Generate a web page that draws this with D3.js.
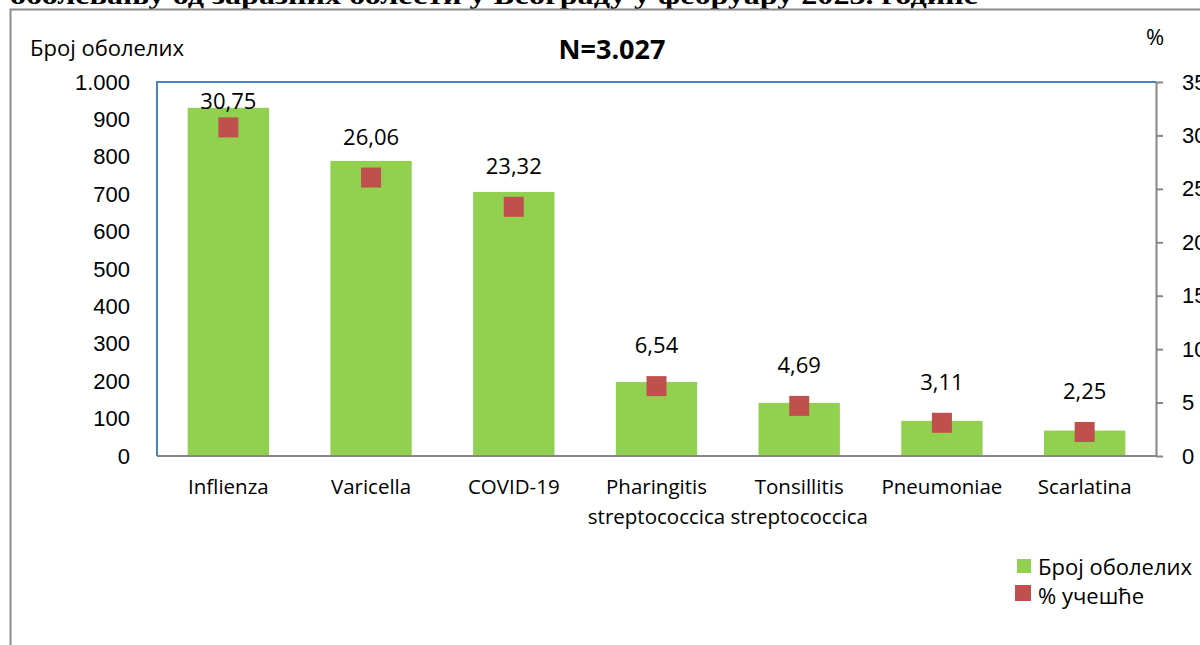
<!DOCTYPE html>
<html>
<head>
<meta charset="utf-8">
<script src="https://cdn.jsdelivr.net/npm/d3@7"></script>
<style>
  body { margin: 0; background: #fff; }
  svg { display: block; font-family: "Open Sans", sans-serif; }
</style>
</head>
<body>
<div class="chart-container"></div>
<script>
// data
const categories = [
  ['Inflienza'],
  ['Varicella'],
  ['COVID-19'],
  ['Pharingitis', 'streptococcica'],
  ['Tonsillitis', 'streptococcica'],
  ['Pneumoniae'],
  ['Scarlatina']
];
const cases = [931, 789, 706, 198, 142, 94, 68];          // Број оболелих
const shares = [30.75, 26.06, 23.32, 6.54, 4.69, 3.11, 2.25]; // % учешће
const leftTicks = d3.range(0, 1001, 100);
const rightTicks = d3.range(0, 36, 5);

const fmtLeft = d => d === 1000 ? '1.000' : String(d);
const fmtPct = d => d.toFixed(2).replace('.', ',');

const W = 1200, H = 645;
const plot = {left: 157, right: 1156, top: 82, bottom: 456};

const svg = d3.select('.chart-container').append('svg')
  .attr('width', W).attr('height', H);

// cut-off document title & frame
svg.append('text')
  .attr('x', 10).attr('y', 4)
  .attr('textLength', 968).attr('lengthAdjust', 'spacingAndGlyphs')
  .style('font-family', '"Liberation Serif", serif')
  .style('font-weight', 'bold').style('font-size', '26px')
  .text('оболевању од заразних болести у Београду у фебруару 2023. године');
svg.append('path')
  .attr('d', `M10.5,${H} V9.5 H${W}`)
  .attr('fill', 'none').attr('stroke', '#8c8c8c').attr('stroke-width', 2);

// scales
const x = d3.scaleBand().domain(categories.map((d, i) => i))
  .range([plot.left, plot.right]).paddingInner(0.43).paddingOuter(0.215);
const yL = d3.scaleLinear().domain([0, 1000]).range([plot.bottom, plot.top]);
const yR = d3.scaleLinear().domain([0, 35]).range([plot.bottom, plot.top]);

// plot border (top/left blue)
svg.append('path')
  .attr('d', `M${plot.left},${plot.bottom} V${plot.top} H${plot.right}`)
  .attr('fill', 'none').attr('stroke', '#4F81BD').attr('stroke-width', 2);

// bars
svg.append('g').selectAll('rect').data(cases).enter().append('rect')
  .attr('x', (d, i) => x(i))
  .attr('width', x.bandwidth())
  .attr('y', d => yL(d))
  .attr('height', d => yL(0) - yL(d))
  .attr('fill', '#92D050');

// left axis (labels only)
const leftAxis = svg.append('g')
  .attr('transform', `translate(${plot.left},0)`)
  .call(d3.axisLeft(yL).tickValues(leftTicks).tickFormat(fmtLeft).tickSize(0).tickPadding(27));
leftAxis.select('.domain').remove();
leftAxis.selectAll('text').style('font-size', '22px').style('fill', '#000')
  .attr('font-family', null);

// bottom axis line
svg.append('line')
  .attr('x1', plot.left).attr('x2', plot.right)
  .attr('y1', plot.bottom).attr('y2', plot.bottom)
  .attr('stroke', '#868686').attr('stroke-width', 2);

// right axis
const rightAxis = svg.append('g')
  .attr('transform', `translate(${plot.right},0)`)
  .call(d3.axisRight(yR).tickValues(rightTicks).tickSize(7).tickSizeOuter(0).tickPadding(19));
rightAxis.select('.domain').attr('stroke', '#868686').attr('stroke-width', 2);
rightAxis.selectAll('.tick line').attr('stroke', '#868686').attr('stroke-width', 2);
rightAxis.selectAll('text').style('font-size', '22px').style('fill', '#000')
  .attr('font-family', null);

// category labels
const catG = svg.append('g');
categories.forEach((lines, i) => {
  const t = catG.append('text')
    .attr('x', x(i) + x.bandwidth() / 2).attr('y', 494)
    .attr('text-anchor', 'middle').style('font-size', '20.5px');
  lines.forEach((l, j) => t.append('tspan')
    .attr('x', x(i) + x.bandwidth() / 2).attr('dy', j === 0 ? 0 : 30).text(l));
});

// share markers
const ms = 20;
svg.append('g').selectAll('rect').data(shares).enter().append('rect')
  .attr('x', (d, i) => x(i) + x.bandwidth() / 2 - ms / 2)
  .attr('y', d => yR(d) - ms / 2)
  .attr('width', ms).attr('height', ms)
  .attr('fill', '#C0504D');

// share labels
svg.append('g').selectAll('text').data(shares).enter().append('text')
  .attr('x', (d, i) => x(i) + x.bandwidth() / 2)
  .attr('y', d => Math.max(yR(d) - 42, plot.top + 18))
  .attr('text-anchor', 'middle').attr('dominant-baseline', 'central')
  .style('font-size', '22px')
  .text(fmtPct);

// header texts
svg.append('text').attr('x', 30).attr('y', 56).style('font-size', '22px').text('Број оболелих');
svg.append('text').attr('x', 612).attr('y', 59).attr('text-anchor', 'middle')
  .style('font-size', '27px').style('font-weight', 'bold').text('N=3.027');
svg.append('text').attr('x', 1146).attr('y', 45).style('font-size', '22px').text('%');

// legend
const legend = [
  {name: 'Број оболелих', color: '#92D050'},
  {name: '% учешће', color: '#C0504D'}
];
const lg = svg.append('g').attr('transform', 'translate(1015,556)');
legend.forEach((d, i) => {
  lg.append('rect').attr('x', i === 0 ? 2 : 0).attr('y', i * 29 + (i === 0 ? 3 : 0))
    .attr('width', i === 0 ? 14 : 16).attr('height', i === 0 ? 14 : 16).attr('fill', d.color);
  lg.append('text').attr('x', 23).attr('y', i * 29 + 10)
    .attr('dominant-baseline', 'central').style('font-size', '22px').text(d.name);
});
</script>
</body>
</html>
